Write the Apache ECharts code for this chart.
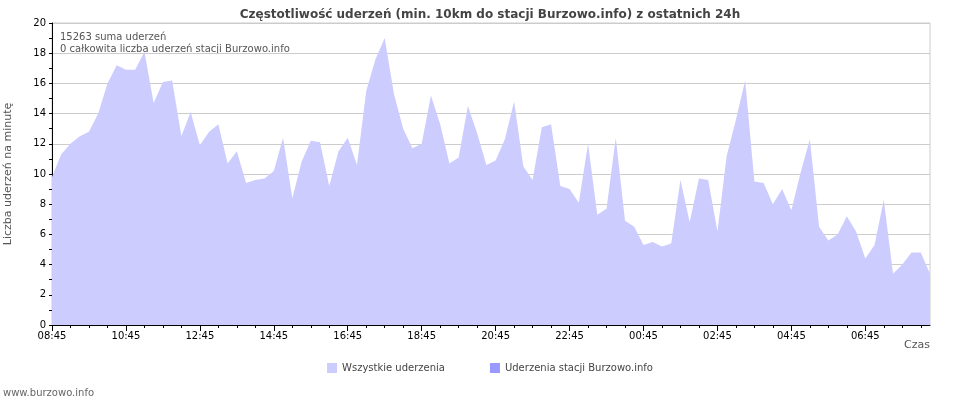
<!DOCTYPE html>
<html><head><meta charset="utf-8">
<script src="https://cdn.jsdelivr.net/npm/echarts@6/dist/echarts.min.js"></script>
<style>html,body{margin:0;padding:0;background:#fff}#c{width:980px;height:400px}</style>
</head><body><div id="c"></div>
<script>
const startHour = 8, startMin = 45, stepMin = 15;
const allStrikes = [9.8,11.3,12.0,12.5,12.8,14.0,16.0,17.2,16.9,16.9,18.1,14.7,16.1,16.2,12.5,14.1,11.9,12.8,13.3,10.7,11.5,9.4,9.6,9.7,10.2,12.4,8.4,10.8,12.2,12.1,9.2,11.5,12.4,10.6,15.5,17.6,19.0,15.3,13.0,11.7,12.0,15.2,13.3,10.7,11.1,14.5,12.7,10.6,10.9,12.3,14.8,10.5,9.6,13.1,13.3,9.2,9.0,8.1,12.0,7.3,7.7,12.4,6.9,6.5,5.3,5.5,5.2,5.4,9.6,6.8,9.7,9.6,6.2,11.2,13.6,16.2,9.5,9.4,8.0,9.0,7.6,10.1,12.3,6.5,5.6,6.0,7.2,6.2,4.4,5.3,8.3,3.4,4.0,4.8,4.8,3.4];
const stationStrikes = [];
const categories = allStrikes.map((v,i)=>{const t=(startHour*60+startMin+i*stepMin)%1440;return String(Math.floor(t/60)).padStart(2,'0')+':'+String(t%60).padStart(2,'0');});
const font='"DejaVu Sans", sans-serif';
const chart = echarts.init(document.getElementById('c'));
chart.setOption({
  animation:false,
  title:{text:'Częstotliwość uderzeń (min. 10km do stacji Burzowo.info) z ostatnich 24h',left:'center',top:4,textStyle:{fontSize:12,fontWeight:'bold',color:'#444',fontFamily:font}},
  grid:{left:52,right:50,top:23,bottom:75,containLabel:false,outerBoundsMode:'none',show:true,borderColor:'#ccc',borderWidth:1},
  legend:{bottom:22,itemWidth:10,itemHeight:10,itemGap:45,icon:'rect',textStyle:{fontSize:10,color:'#444',fontFamily:font},
    data:[{name:'Wszystkie uderzenia',itemStyle:{color:'#ccccff'}},{name:'Uderzenia stacji Burzowo.info',itemStyle:{color:'#9999ff'}}]},
  graphic:[
    {type:'text',left:3,bottom:2,style:{text:'www.burzowo.info',fontSize:10,fill:'#666',fontFamily:font}},
    {type:'text',left:904,top:340,style:{text:'Czas',fontSize:11,fill:'#555',fontFamily:font}},
    {type:'text',left:60,top:31,style:{text:'15263 suma uderzeń\n0 całkowita liczba uderzeń stacji Burzowo.info',fontSize:10,lineHeight:12,fill:'#555',fontFamily:font}}
  ],
  xAxis:[{type:'category',data:categories,boundaryGap:false,
    axisLine:{lineStyle:{color:'#000'}},axisTick:{interval:1,length:3,lineStyle:{color:'#000'}},
    axisLabel:{interval:7,fontSize:10,color:'#000',fontFamily:font,margin:6},splitLine:{show:false}},
   {type:'category',data:categories,boundaryGap:false,position:'bottom',axisLine:{show:false},
    axisTick:{interval:7,length:6,lineStyle:{color:'#000'}},axisLabel:{show:false},splitLine:{show:false}}],
  yAxis:{type:'value',min:0,max:20,interval:2,name:'Liczba uderzeń na minutę',nameLocation:'middle',nameGap:38,
    nameTextStyle:{fontSize:11,color:'#555',fontFamily:font},
    axisLine:{show:true,lineStyle:{color:'#000'}},axisTick:{show:true,length:3,lineStyle:{color:'#000'}},
    minorTick:{show:true,splitNumber:2,length:3,lineStyle:{color:'#000'}},
    axisLabel:{fontSize:10,color:'#000',fontFamily:font,margin:6},splitLine:{lineStyle:{color:'#ccc'}}},
  series:[
    {name:'Wszystkie uderzenia',type:'line',data:allStrikes,symbol:'none',lineStyle:{width:0},areaStyle:{color:'#ccccff',opacity:1},itemStyle:{color:'#ccccff'}},
    {name:'Uderzenia stacji Burzowo.info',type:'line',data:stationStrikes,symbol:'none',lineStyle:{width:0},areaStyle:{color:'#9999ff',opacity:1},itemStyle:{color:'#9999ff'}}
  ]
});
</script></body></html>
